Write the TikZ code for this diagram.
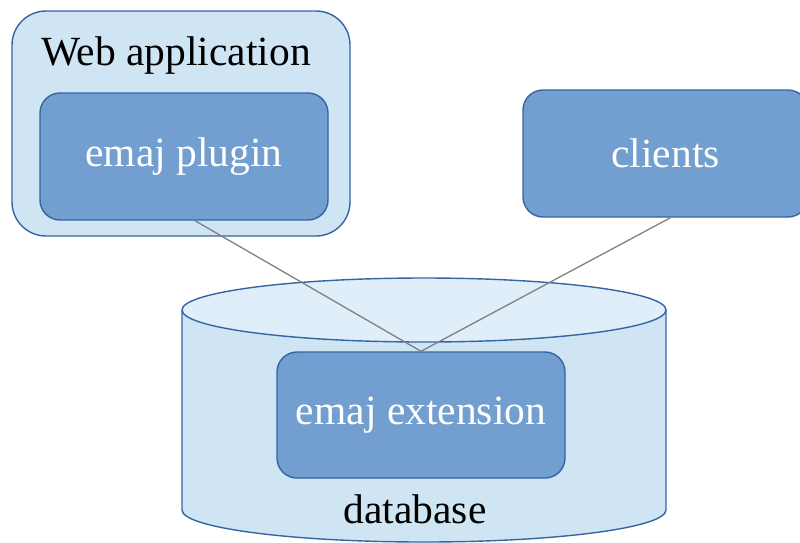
\documentclass[tikz,border=0pt]{standalone}
\usepackage{fontspec}
\setmainfont{Liberation Serif}
\usetikzlibrary{calc}
\definecolor{outerfill}{HTML}{CFE5F4}
\definecolor{topfill}{HTML}{DFEEF9}
\definecolor{innerfill}{HTML}{729FCF}
\definecolor{edge}{HTML}{3465A4}
\definecolor{wire}{HTML}{808080}
\begin{document}
\begin{tikzpicture}[x=1pt,y=-1pt,
  innerbox/.style={draw=edge, fill=innerfill, line width=1.4pt, rounded corners=20pt,
    text=white, font=\fontsize{41.5}{44}\selectfont, inner sep=0pt},
  outerbox/.style={draw=edge, fill=outerfill, line width=1.4pt, rounded corners=34pt},
  wireline/.style={draw=wire, line width=1.3pt},
  plainlabel/.style={text=black, font=\fontsize{41.5}{44}\selectfont, inner sep=0pt}]
\useasboundingbox (0,0) rectangle (800,542);
% Web application container
\draw[outerbox] (12,11) rectangle (350,236);
\node[plainlabel, anchor=base] (webapp) at (176,65) {Web application};
\node[innerbox, minimum width=288pt, minimum height=127pt] (plugin) at (184,156.5) {emaj plugin};
% clients
\node[innerbox, minimum width=285pt, minimum height=127pt] (clients) at (665.5,153.5) {clients};
% database cylinder
\path[draw=edge, fill=outerfill, line width=1.4pt]
  (182,310) -- (182,510) arc[start angle=180, end angle=0, x radius=242, y radius=32]
  -- (666,310);
\path[draw=edge, fill=topfill, line width=1.4pt] (424,310) ellipse [x radius=242, y radius=32];
\node[innerbox, minimum width=288pt, minimum height=126pt] (ext) at (421,415) {emaj extension};
\node[plainlabel, anchor=base] (db) at (415,523) {database};
% connectors
\draw[wireline] ([xshift=11pt]plugin.south) -- (ext.north);
\draw[wireline] ([xshift=5pt]clients.south) -- (ext.north);
\end{tikzpicture}
\end{document}
